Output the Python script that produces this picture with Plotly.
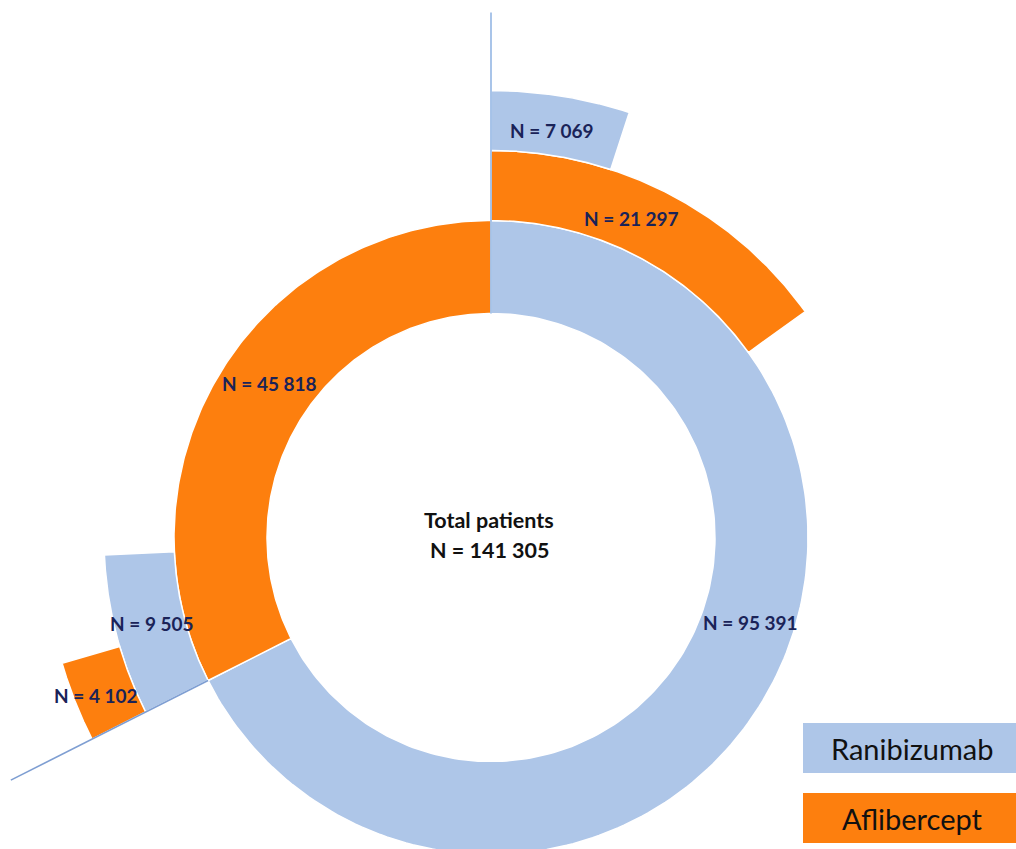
import numpy as np
import plotly.graph_objects as go

# ---------------- data ----------------
segment_ids = ["R", "A", "R>A", "A>R", "R>A>R", "A>R>A"]
segment_parents = ["", "", "R", "A", "R>A", "A>R"]
segment_drugs = ["Ranibizumab", "Aflibercept", "Aflibercept", "Ranibizumab", "Ranibizumab", "Aflibercept"]
segment_levels = [1, 1, 2, 2, 3, 3]
segment_values = [95391, 45818, 21297, 9505, 7069, 4102]
total_patients = 141305
center_title = "Total patients"
legend_labels = ["Ranibizumab", "Aflibercept"]

# ---------------- style ----------------
W, H = 1016, 849
CX, CY = 491, 537.5
RING_EDGES = [224, 317, 387, 447]          # hole, ring1 outer, ring2 outer, ring3 outer
COLORS = {"Ranibizumab": "#AEC6E8", "Aflibercept": "#FD7F0E"}
LABEL_COLOR = "#1A2358"
FONT = "Lato"
# label placement: (angle clockwise from 12 o'clock, radius)
LABEL_POS = {"R": (108.2, 273), "A": (304.9, 270), "R>A": (23.8, 349),
             "R>A>R": (8.5, 412), "A>R": (255.8, 350), "A>R>A": (248.2, 425)}


def fmt(v):
    return "N = " + f"{v:,}".replace(",", " ")


def pt(angle_deg, r):
    a = np.radians(angle_deg)
    return CX + r * np.sin(a), CY - r * np.cos(a)


# angular scale from the first ring
deg_per_patient = 360.0 / sum(v for v, l in zip(segment_values, segment_levels) if l == 1)

# compute start / end angles (children start at their parent's start)
start, end = {}, {}
next_free = {}
for sid, par, val in zip(segment_ids, segment_parents, segment_values):
    s = next_free.get(par, start.get(par, 0.0))
    start[sid] = s
    end[sid] = s + val * deg_per_patient
    next_free[par] = end[sid]

fig = go.Figure()

for sid, drug, lvl, val in zip(segment_ids, segment_drugs, segment_levels, segment_values):
    r0, r1 = RING_EDGES[lvl - 1], RING_EDGES[lvl]
    angs = np.linspace(start[sid], end[sid], 200)
    xo, yo = pt(angs, r1)
    xi, yi = pt(angs[::-1], r0)
    xs = np.concatenate([xo, xi, xo[:1]])
    ys = np.concatenate([yo, yi, yo[:1]])
    fig.add_trace(go.Scatter(x=xs, y=ys, mode="lines", fill="toself",
                             fillcolor=COLORS[drug],
                             line=dict(color="white", width=1.5),
                             hoverinfo="text", text=f"{drug}: {fmt(val)}",
                             showlegend=False))

# boundary lines: at 12 o'clock and at the split of the first ring
first_split = end["R"]
for ang, ra, rb, col in [(0.0, RING_EDGES[0], 525, "#94B6E4"),
                         (first_split, RING_EDGES[1], 538, "#7E9ED2")]:
    x0, y0 = pt(ang, ra)
    x1, y1 = pt(ang, rb)
    fig.add_trace(go.Scatter(x=[x0, x1], y=[y0, y1], mode="lines",
                             line=dict(color=col, width=1.6),
                             hoverinfo="skip", showlegend=False))

# value labels
for sid, val in zip(segment_ids, segment_values):
    ang, r = LABEL_POS[sid]
    x, y = pt(ang, r)
    fig.add_annotation(x=x, y=y, text=f"<b>{fmt(val)}</b>", showarrow=False,
                       font=dict(family=FONT, size=19, color=LABEL_COLOR),
                       xanchor="center", yanchor="middle")

# centre text
fig.add_annotation(x=489, y=520, text=f"<b>{center_title}</b>", showarrow=False,
                   font=dict(family=FONT, size=21.5, color="#111111"))
fig.add_annotation(x=490, y=550, text=f"<b>{fmt(total_patients)}</b>", showarrow=False,
                   font=dict(family=FONT, size=21.5, color="#111111"))

# legend boxes
box_y = [(723, 773), (793, 843)]
for name, (y0, y1) in zip(legend_labels, box_y):
    fig.add_shape(type="rect", x0=803, x1=W, y0=y0, y1=y1,
                  fillcolor=COLORS[name], line=dict(width=0), layer="below")
    fig.add_annotation(x=912, y=(y0 + y1) / 2, text=name, showarrow=False,
                       font=dict(family=FONT, size=29, color="#111111"))

fig.update_layout(
    width=W, height=H,
    margin=dict(l=0, r=0, t=0, b=0),
    paper_bgcolor="white", plot_bgcolor="white",
    xaxis=dict(range=[0, W], visible=False, fixedrange=True),
    yaxis=dict(range=[H, 0], visible=False, fixedrange=True),
    showlegend=False,
)

fig.write_html("out.html", config={"displayModeBar": False},
               post_script="document.body.style.margin='0';")
